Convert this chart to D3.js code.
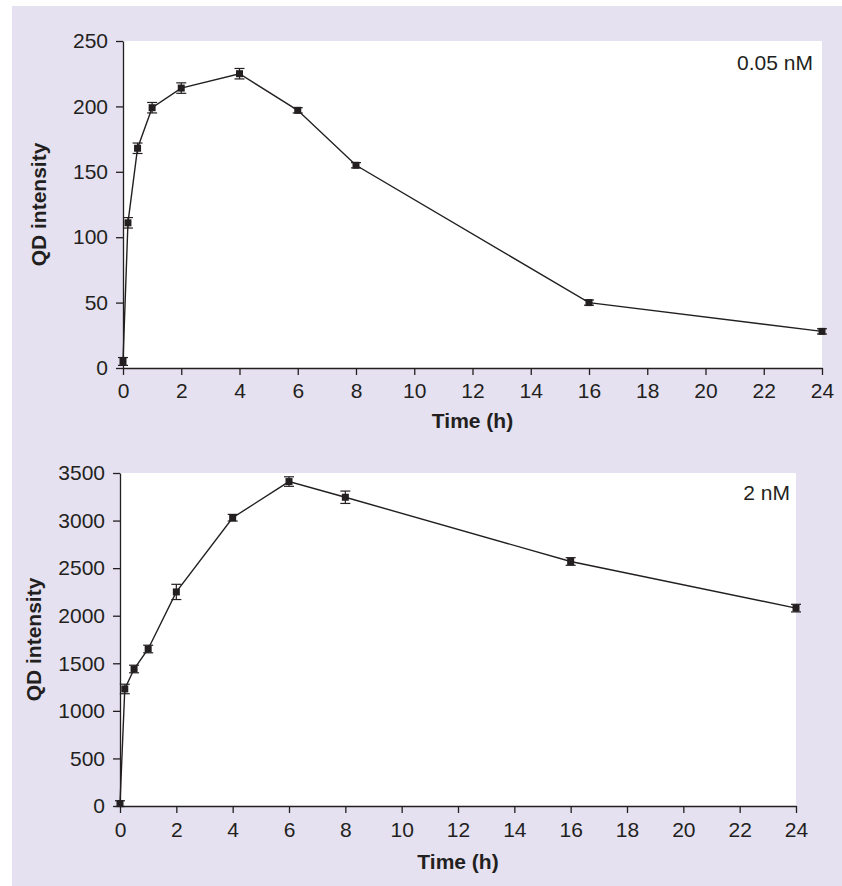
<!DOCTYPE html>
<html>
<head>
<meta charset="utf-8">
<script src="https://cdn.jsdelivr.net/npm/d3@7"></script>
<style>
  body { margin: 0; background: #fff; }
  text { font-family: "Liberation Sans", Arial, sans-serif; fill: #231f20; }
</style>
</head>
<body>
<svg width="842" height="886"></svg>
<script>
// time points (h)
var times = [0, 0.17, 0.5, 1, 2, 4, 6, 8, 16, 24];

// 0.05 nM
var lowValues = [5, 111, 168, 199, 214, 225, 197, 155, 50, 28];
var lowErr = [3, 4, 4, 4, 4, 4, 2, 2, 2, 2];

// 2 nM
var highValues = [25, 1230, 1440, 1650, 2250, 3030, 3410, 3245, 2570, 2080];
var highErr = [30, 50, 40, 40, 80, 35, 50, 65, 40, 40];

var xTicks = [0, 2, 4, 6, 8, 10, 12, 14, 16, 18, 20, 22, 24];
var lowTicks = [0, 50, 100, 150, 200, 250];
var highTicks = [0, 500, 1000, 1500, 2000, 2500, 3000, 3500];

var svg = d3.select("svg");

// lavender panel behind both charts
svg.append("rect")
    .attr("x", 12).attr("y", 6)
    .attr("width", 830).attr("height", 880)
    .attr("fill", "#e5e1f0");

function drawChart(opts) {
    var x = d3.scaleLinear().domain([0, 24]).range([opts.left, opts.right]);
    var y = d3.scaleLinear().domain([0, opts.ymax]).range([opts.bottom, opts.top]);

    var g = svg.append("g");

    // white plot area
    g.append("rect")
        .attr("x", x(0)).attr("y", y(opts.ymax))
        .attr("width", x(24) - x(0)).attr("height", y(0) - y(opts.ymax))
        .attr("fill", "#fff");

    var xAxis = g.append("g")
        .attr("transform", "translate(0," + y(0) + ")")
        .call(d3.axisBottom(x).tickValues(xTicks).tickFormat(d3.format("d"))
            .tickSize(7).tickPadding(opts.xPad).tickSizeOuter(0));

    var yAxis = g.append("g")
        .attr("transform", "translate(" + x(0) + ",0)")
        .call(d3.axisLeft(y).tickValues(opts.yticks).tickFormat(d3.format("d"))
            .tickSize(7).tickPadding(8).tickSizeOuter(0));

    [xAxis, yAxis].forEach(function (a) {
        a.selectAll("path, line").attr("stroke", "#231f20").attr("stroke-width", 1.3);
        a.selectAll("text")
            .style("font-family", "Liberation Sans, Arial, sans-serif")
            .style("font-size", "21px")
            .attr("fill", "#231f20");
    });

    // axis titles
    g.append("text")
        .attr("x", (x(0) + x(24)) / 2)
        .attr("y", opts.xTitleY)
        .attr("text-anchor", "middle")
        .style("font-size", "21px")
        .style("font-weight", "bold")
        .text("Time (h)");

    g.append("text")
        .attr("transform", "translate(" + opts.yTitleX + "," + (y(0) + y(opts.ymax)) / 2 + ") rotate(-90)")
        .attr("text-anchor", "middle")
        .style("font-size", "21px")
        .style("font-weight", "bold")
        .text("QD intensity");

    // concentration label
    g.append("text")
        .attr("x", opts.labelX)
        .attr("y", opts.labelY)
        .attr("text-anchor", "end")
        .style("font-size", "21px")
        .text(opts.label);

    var data = times.map(function (t, i) {
        return { t: t, v: opts.values[i], e: opts.err[i] };
    });

    var line = d3.line()
        .x(function (d) { return x(d.t); })
        .y(function (d) { return y(d.v); });

    g.append("path")
        .datum(data)
        .attr("fill", "none")
        .attr("stroke", "#231f20")
        .attr("stroke-width", 1.4)
        .attr("d", line);

    // error bars
    var eb = g.selectAll(".eb").data(data).enter().append("g").attr("class", "eb");
    eb.append("line")
        .attr("x1", function (d) { return x(d.t); })
        .attr("x2", function (d) { return x(d.t); })
        .attr("y1", function (d) { return y(d.v - d.e); })
        .attr("y2", function (d) { return y(d.v + d.e); })
        .attr("stroke", "#231f20").attr("stroke-width", 1.2);
    [-1, 1].forEach(function (s) {
        eb.append("line")
            .attr("x1", function (d) { return x(d.t) - 5; })
            .attr("x2", function (d) { return x(d.t) + 5; })
            .attr("y1", function (d) { return y(d.v + s * d.e); })
            .attr("y2", function (d) { return y(d.v + s * d.e); })
            .attr("stroke", "#231f20").attr("stroke-width", 1.2);
    });

    // square markers
    g.selectAll(".pt").data(data).enter().append("rect")
        .attr("class", "pt")
        .attr("x", function (d) { return x(d.t) - 3.5; })
        .attr("y", function (d) { return y(d.v) - 3.5; })
        .attr("width", 7).attr("height", 7)
        .attr("fill", "#231f20");
}

drawChart({
    left: 123, right: 822, top: 41, bottom: 368, ymax: 250, xPad: 8,
    yticks: lowTicks, values: lowValues, err: lowErr,
    xTitleY: 428, yTitleX: 46, label: "0.05 nM", labelX: 813, labelY: 70
});

drawChart({
    left: 120, right: 796, top: 473, bottom: 806, ymax: 3500, xPad: 9,
    yticks: highTicks, values: highValues, err: highErr,
    xTitleY: 869, yTitleX: 41, label: "2 nM", labelX: 790, labelY: 500
});
</script>
</body>
</html>
